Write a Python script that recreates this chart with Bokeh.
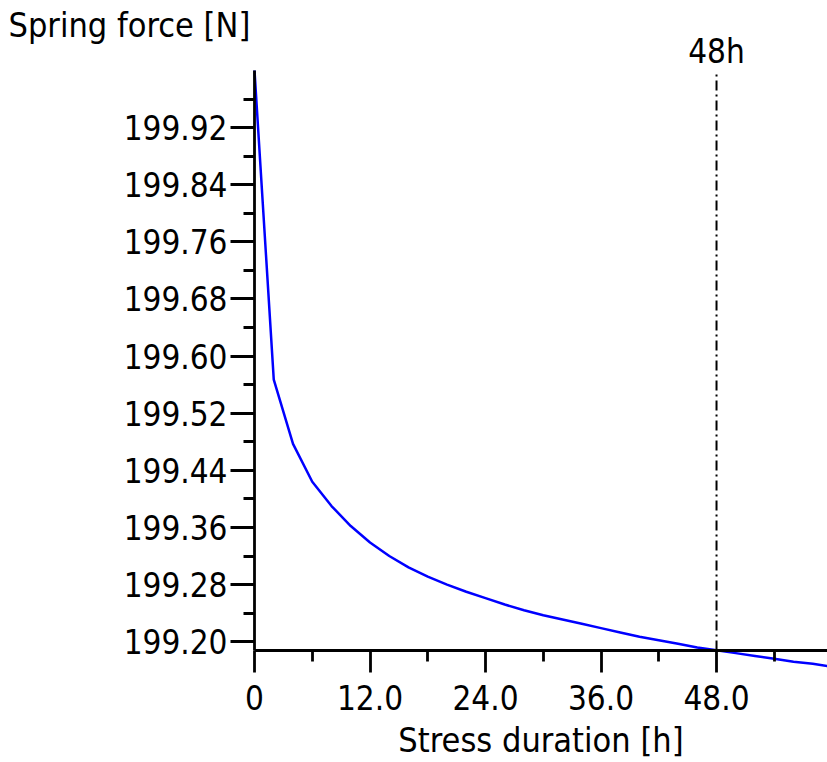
from bokeh.plotting import figure
from bokeh.models import FixedTicker, PrintfTickFormatter, Range1d, Label
from bokeh.embed import file_html
from bokeh.resources import INLINE

# ---- data ----
hours = [0, 2, 4, 6, 8, 10, 12, 14, 16, 18, 20, 22, 24, 26, 28, 30,
         32, 34, 36, 38, 40, 42, 44, 46, 48, 50, 52, 54, 56, 58, 60]
force = [200.000, 199.567, 199.477, 199.424, 199.390, 199.362, 199.339,
         199.320, 199.304, 199.291, 199.280, 199.270, 199.261, 199.252,
         199.244, 199.237, 199.231, 199.225, 199.219, 199.213, 199.207,
         199.202, 199.197, 199.192, 199.188, 199.184, 199.180, 199.176,
         199.172, 199.169, 199.165]
x_ticks = [0, 12, 24, 36, 48]
x_minor_ticks = [6, 18, 30, 42, 54]
y_ticks = [199.20, 199.28, 199.36, 199.44, 199.52, 199.60, 199.68, 199.76, 199.84, 199.92]
y_minor_ticks = [199.24, 199.32, 199.40, 199.48, 199.56, 199.64, 199.72, 199.80, 199.88, 199.96]
marker_hour = 48
marker_force = 199.1875
marker_text = "48h"
x_label = "Stress duration [h]"
y_label = "Spring force [N]"

# axis extents (data) and visible window (data)
x_axis_lo, x_axis_hi = 0, 59.53
y_axis_lo, y_axis_hi = 199.1875, 200.0
view_x = (-26.39, 59.53)
view_y = (199.0308, 200.098)

FONT = "DejaVu Sans Condensed"
W, H = 827, 762

p = figure(width=W, height=H, output_backend="svg", toolbar_location=None,
           x_range=Range1d(*view_x), y_range=Range1d(*view_y),
           min_border_left=0, min_border_right=0, min_border_top=0,
           min_border_bottom=0)
p.outline_line_color = None
p.grid.visible = False
p.background_fill_color = "white"
p.border_fill_color = "white"

p.line(hours, force, line_color="#0000ff", line_width=2.5)
p.segment(x0=[marker_hour], y0=[marker_force], x1=[marker_hour], y1=[y_axis_hi],
          line_color="black", line_width=2, line_dash="10 4 2 4")


def style(a):
    a.axis_line_width = 2.8
    a.major_tick_line_width = 2.8
    a.minor_tick_line_width = 2.8
    a.axis_line_color = "black"
    a.major_tick_line_color = "black"
    a.minor_tick_line_color = "black"
    a.major_label_text_color = "black"
    a.axis_label_text_color = "black"
    a.major_label_text_font = FONT
    a.major_label_text_font_size = "33px"
    a.major_tick_in = 0
    a.minor_tick_in = 0


xa = p.xaxis[0]
style(xa)
xa.fixed_location = marker_force
xa.bounds = (x_axis_lo, x_axis_hi)
xa.ticker = FixedTicker(ticks=x_ticks, minor_ticks=x_minor_ticks)
xa.formatter = PrintfTickFormatter(format="%.1f")
xa.major_label_overrides = {0: "0"}
xa.axis_label = x_label
xa.axis_label_text_font = FONT
xa.axis_label_text_font_size = "34px"
xa.axis_label_text_font_style = "normal"
xa.axis_label_standoff = 7
xa.major_label_standoff = 12
xa.major_tick_out = 22
xa.minor_tick_out = 11

ya = p.yaxis[0]
style(ya)
ya.fixed_location = x_axis_lo
ya.bounds = (y_axis_lo, y_axis_hi)
ya.ticker = FixedTicker(ticks=y_ticks, minor_ticks=y_minor_ticks)
ya.formatter = PrintfTickFormatter(format="%.2f")
ya.major_label_standoff = 3
ya.major_tick_out = 24
ya.minor_tick_out = 11

p.add_layout(Label(x=view_x[0], y=y_axis_hi, x_offset=8, y_offset=45, text=y_label,
                   text_font=FONT, text_font_size="34px", text_color="black",
                   text_align="left", text_baseline="alphabetic"))
p.add_layout(Label(x=marker_hour, y=y_axis_hi, y_offset=19, text=marker_text,
                   text_font=FONT, text_font_size="33px", text_color="black",
                   text_align="center", text_baseline="alphabetic"))

open("out.html", "w").write(file_html(p, INLINE))
